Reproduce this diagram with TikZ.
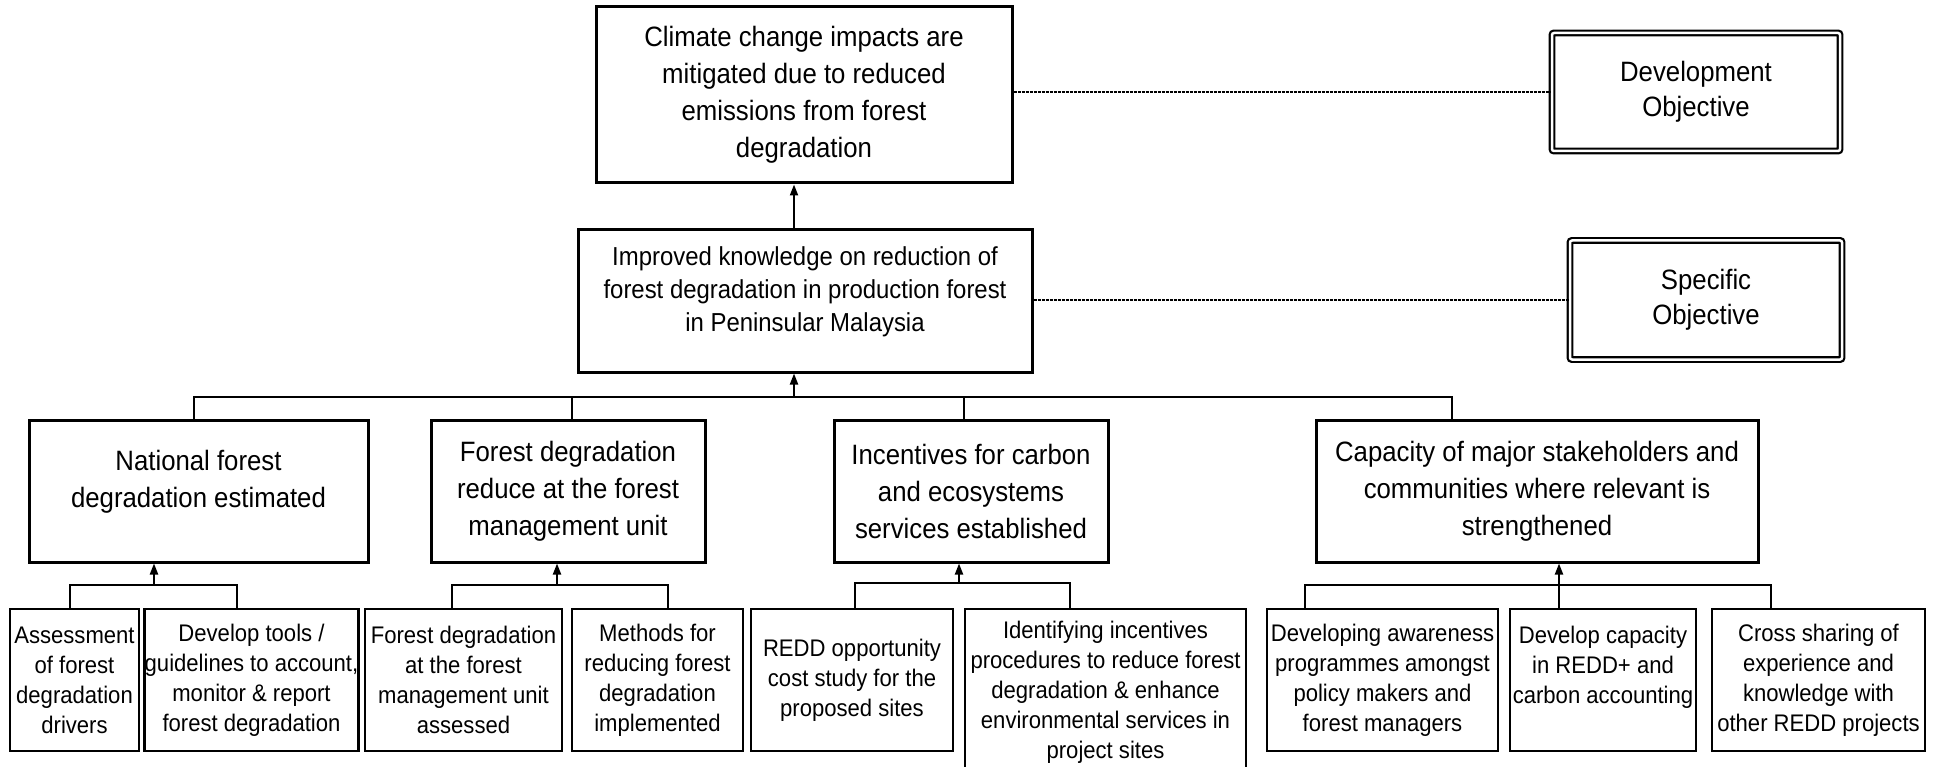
\documentclass[tikz,border=0pt]{standalone}
\usepackage{fontspec}
\setmainfont{Liberation Sans}[FakeStretch=0.92]
\usetikzlibrary{arrows.meta}

\tikzset{
	goalbox/.style={shape=rectangle, draw=black, line width=3pt, inner sep=0pt, align=center, font=\fontsize{28}{37}\selectfont},
	purposebox/.style={goalbox, font=\fontsize{26}{33}\selectfont},
	outbox/.style={goalbox, minimum height=142pt},
	actbox/.style={goalbox, line width=2.6pt, minimum height=142pt, font=\fontsize{24}{30}\selectfont},
	objbox/.style={shape=rectangle, draw=black, double, double distance=2.5pt, line width=2.2pt, rounded corners=2pt, inner sep=0pt, align=center, font=\fontsize{28}{35}\selectfont}
}

\begin{document}
\begin{tikzpicture}[x=1pt, y=-1pt]
		\useasboundingbox (0,0) rectangle (1935,767);

		\node[goalbox, minimum width=416pt, minimum height=176pt] (goal) at (804,95) {Climate change impacts are\\mitigated due to reduced\\emissions from forest\\degradation};
		\node[purposebox, minimum width=454pt, minimum height=142pt] (purpose) at (805,301) {Improved knowledge on reduction of\\forest degradation in production forest\\in Peninsular Malaysia\\[-9pt]\mbox{}};
		\node[objbox, minimum width=288pt, minimum height=118pt] (devobj) at (1696,92) {Development\\Objective};
		\node[objbox, minimum width=272pt, minimum height=119pt] (specobj) at (1706,300) {Specific\\Objective};

		\node[outbox, minimum width=339pt] (out1) at (198.5,491) {National forest\\degradation estimated\\[-12pt]\mbox{}};
		\node[outbox, minimum width=274pt] (out2) at (568,491) {Forest degradation\\reduce at the forest\\management unit};
		\node[outbox, minimum width=274pt] (out3) at (971,491) {Incentives for carbon\\and ecosystems\\services established};
		\node[outbox, minimum width=442pt] (out4) at (1537,491) {Capacity of major stakeholders and\\communities where relevant is\\strengthened};

		\node[actbox, minimum width=129pt] (a1) at (74.5,680) {Assessment\\of forest\\degradation\\drivers};
		\node[actbox, minimum width=213pt] (a2) at (251.5,680) {Develop tools /\\guidelines to account,\\monitor \& report\\forest degradation};
		\node[actbox, minimum width=197pt] (a3) at (463.5,680) {Forest degradation\\at the forest\\management unit\\assessed};
		\node[actbox, minimum width=171pt] (a4) at (657.5,680) {Methods for\\reducing forest\\degradation\\implemented};
		\node[actbox, minimum width=202pt] (a5) at (852,680) {REDD opportunity\\cost study for the\\proposed sites};
		\node[actbox, minimum width=281pt, minimum height=166pt] (a6) at (1105.5,692) {Identifying incentives\\procedures to reduce forest\\degradation \& enhance\\environmental services in\\project sites};
		\node[actbox, minimum width=231pt] (a7) at (1382.5,680) {Developing awareness\\programmes amongst\\policy makers and\\forest managers};
		\node[actbox, minimum width=186pt] (a8) at (1603,680) {Develop capacity\\in REDD+ and\\carbon accounting\\ \mbox{}};
		\node[actbox, minimum width=213pt] (a9) at (1818.5,680) {Cross sharing of\\experience and\\knowledge with\\other REDD projects};

		\coordinate (pj) at ([xshift=-11pt]purpose.north);
		\coordinate (ob) at (794,397);
		\coordinate (j1) at (154,585);
		\coordinate (j2) at (557,585);
		\coordinate (j3) at (959,583);
		\coordinate (j4) at (1559,585);

		\begin{scope}[line width=2pt, >={Triangle[length=11pt, width=8pt]}]

			% objective levels
			\draw[->] (pj) -- (pj |- goal.south);
			\draw[->] (ob) -- (ob |- purpose.south);
			\draw ([xshift=-4.5pt]out1.north) |- (ob) -| ([xshift=-85pt]out4.north);
			\draw ([xshift=4pt]out2.north) -- ([xshift=4pt]out2.north |- ob);
			\draw ([xshift=-7pt]out3.north) -- ([xshift=-7pt]out3.north |- ob);

			% activities to outputs
			\draw ([xshift=-4.5pt]a1.north) |- (j1) -| ([xshift=-14.5pt]a2.north);
			\draw[->] (j1) -- (j1 |- out1.south);
			\draw ([xshift=-11.5pt]a3.north) |- (j2) -| ([xshift=10.5pt]a4.north);
			\draw[->] (j2) -- (j2 |- out2.south);
			\draw ([xshift=3pt]a5.north) |- (j3) -| ([xshift=-35.5pt]a6.north);
			\draw[->] (j3) -- (j3 |- out3.south);
			\draw ([xshift=-77.5pt]a7.north) |- (j4) -| ([xshift=-47.5pt]a9.north);
			\draw ([xshift=-44pt]a8.north) -- (j4);
			\draw[->] (j4) -- (j4 |- out4.south);

		\end{scope}

		\begin{scope}[line width=2.6pt, dash pattern=on 3pt off 1pt]
			\draw (goal.east |- devobj.west) -- (devobj.west);
			\draw (purpose.east |- specobj.west) -- (specobj.west);
		\end{scope}

	\end{tikzpicture}
\end{document}
